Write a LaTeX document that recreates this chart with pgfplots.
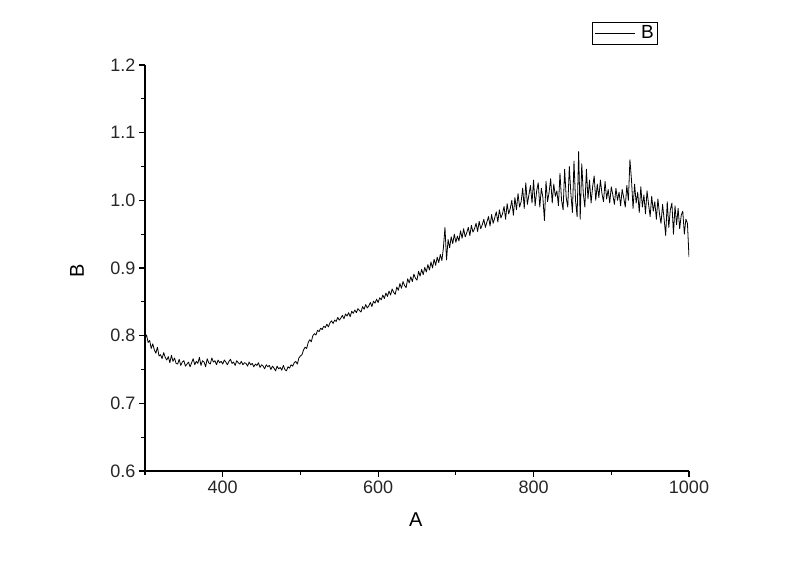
\documentclass[border=0pt]{standalone}
\usepackage{pgfplots}
\pgfplotsset{compat=1.18}
\usepackage{fontspec}
\setmainfont{Liberation Sans}

\pgfplotstableread{
x y
300 0.796
302 0.801
304 0.790
306 0.793
308 0.781
310 0.788
312 0.779
314 0.774
316 0.783
318 0.770
320 0.772
322 0.766
324 0.775
326 0.768
328 0.764
330 0.769
332 0.760
334 0.771
336 0.762
338 0.767
340 0.759
342 0.758
344 0.765
346 0.756
348 0.761
350 0.763
352 0.755
354 0.758
356 0.761
358 0.754
360 0.760
362 0.766
364 0.757
366 0.762
368 0.759
370 0.768
372 0.756
374 0.763
376 0.761
378 0.754
380 0.766
382 0.760
384 0.758
386 0.767
388 0.761
390 0.763
392 0.757
394 0.764
396 0.760
398 0.762
400 0.758
402 0.764
404 0.761
406 0.757
408 0.762
410 0.765
412 0.759
414 0.761
416 0.756
418 0.763
420 0.760
422 0.758
424 0.762
426 0.757
428 0.760
430 0.759
432 0.755
434 0.761
436 0.757
438 0.759
440 0.754
442 0.758
444 0.756
446 0.760
448 0.753
450 0.757
452 0.755
454 0.751
456 0.757
458 0.754
460 0.756
462 0.750
464 0.755
466 0.752
468 0.748
470 0.755
472 0.751
474 0.753
476 0.749
478 0.756
480 0.750
482 0.748
484 0.754
486 0.752
488 0.757
490 0.755
492 0.760
494 0.762
496 0.758
498 0.767
500 0.770
502 0.772
504 0.779
506 0.783
508 0.781
510 0.790
512 0.794
514 0.791
516 0.800
518 0.803
520 0.801
522 0.808
524 0.806
526 0.811
528 0.809
530 0.814
532 0.812
534 0.817
536 0.813
538 0.819
540 0.822
542 0.818
544 0.823
546 0.821
548 0.827
550 0.823
552 0.826
554 0.830
556 0.825
558 0.832
560 0.829
562 0.834
564 0.828
566 0.836
568 0.833
570 0.838
572 0.834
574 0.840
576 0.837
578 0.835
580 0.843
582 0.839
584 0.846
586 0.841
588 0.844
590 0.849
592 0.843
594 0.851
596 0.848
598 0.854
600 0.849
602 0.856
604 0.853
606 0.860
608 0.855
610 0.863
612 0.858
614 0.866
616 0.860
618 0.869
620 0.864
622 0.861
624 0.872
626 0.867
628 0.877
630 0.870
632 0.880
634 0.874
636 0.871
638 0.884
640 0.878
642 0.887
644 0.880
646 0.891
648 0.885
650 0.882
652 0.895
654 0.888
656 0.898
658 0.890
660 0.901
662 0.894
664 0.905
666 0.897
668 0.909
670 0.900
672 0.913
674 0.904
676 0.916
678 0.908
680 0.920
682 0.911
684 0.930
686 0.960
688 0.912
690 0.942
692 0.930
694 0.946
696 0.936
698 0.950
700 0.938
702 0.947
704 0.940
706 0.955
708 0.944
710 0.958
712 0.946
714 0.952
716 0.960
718 0.948
720 0.963
722 0.953
724 0.958
726 0.966
728 0.954
730 0.969
732 0.958
734 0.964
736 0.972
738 0.960
740 0.968
742 0.976
744 0.962
746 0.979
748 0.966
750 0.974
752 0.983
754 0.968
756 0.986
758 0.974
760 0.980
762 0.991
764 0.972
766 0.995
768 0.980
770 0.988
772 1.000
774 0.978
776 1.004
778 0.986
780 1.010
782 0.990
784 0.998
786 1.018
788 0.988
790 1.026
792 0.994
794 1.008
796 1.022
798 0.996
800 1.030
802 0.992
804 1.014
806 1.026
808 0.990
810 1.018
812 1.004
814 0.970
816 1.028
818 0.998
820 1.012
822 1.032
824 0.996
826 1.024
828 1.006
830 1.014
832 0.992
834 1.040
836 1.000
838 0.986
840 1.046
842 1.004
844 0.990
846 1.050
848 1.010
850 0.982
852 1.058
854 1.000
856 0.976
858 1.072
860 0.972
862 1.054
864 1.010
866 0.990
868 1.046
870 1.002
872 1.030
874 0.996
876 1.020
878 1.036
880 1.000
882 1.024
884 1.004
886 1.030
888 1.010
890 0.998
892 1.028
894 1.002
896 1.016
898 0.996
900 1.020
902 1.008
904 0.994
906 1.018
908 1.000
910 1.012
912 0.992
914 1.016
916 1.004
918 0.990
920 1.022
922 1.000
924 1.060
926 1.030
928 0.988
930 1.024
932 0.996
934 1.012
936 0.982
938 1.020
940 0.990
942 1.008
944 0.980
946 1.014
948 0.994
950 0.976
952 1.006
954 0.984
956 0.998
958 0.972
960 1.002
962 0.980
964 0.966
966 0.994
968 0.972
970 0.948
972 0.998
974 0.960
976 0.986
978 0.996
980 0.950
982 0.992
984 0.964
986 0.988
988 0.958
990 0.978
992 0.984
994 0.950
996 0.972
998 0.966
1000 0.916
}\datatable

\begin{document}
\begin{tikzpicture}[x=1pt,y=1pt]
\path[use as bounding box] (0,0) rectangle (800,565);
\begin{axis}[
  at={(145pt,94pt)}, anchor=south west,
  scale only axis, width=544pt, height=406pt,
  xmin=300, xmax=1000, ymin=0.6, ymax=1.2,
  axis x line*=bottom, axis y line*=left,
  axis line style={line width=1.3pt,-},
  xtick={400,600,800,1000}, minor xtick={300,500,700,900},
  ytick={0.6,0.7,0.8,0.9,1.0,1.1,1.2},
  minor ytick={0.65,0.75,0.85,0.95,1.05,1.15},
  tick align=outside, major tick length=6pt, minor tick length=4pt,
  every tick/.style={line width=1.1pt,black},
  /pgf/number format/assume math mode=true,
  yticklabel style={/pgf/number format/.cd, fixed, fixed zerofill, precision=1},
  xticklabel style={/pgf/number format/.cd, fixed, 1000 sep={}},
  tick label style={font=\fontsize{18}{20}\selectfont, text=black!85},
  xlabel={A}, ylabel={B},
  label style={font=\fontsize{20}{22}\selectfont},
  xlabel style={at={(axis description cs:0.498,-0.1207)}, anchor=center},
  ylabel style={at={(axis description cs:-0.125,0.493)}, anchor=center},
  legend style={at={(rel axis cs:0.8217,1.106)}, anchor=north west,
    draw=black, line width=0.8pt, inner xsep=2pt, inner ysep=1.5pt,
    column sep=4pt,
    font=\fontsize{19}{21}\selectfont},
  legend image code/.code={\draw[#1] (0pt,0pt) -- (40pt,0pt);},
]
\addplot[black, line width=0.8pt, line join=round] table[x=x,y=y] {\datatable};
\addlegendentry{B}
\end{axis}
\end{tikzpicture}
\end{document}
